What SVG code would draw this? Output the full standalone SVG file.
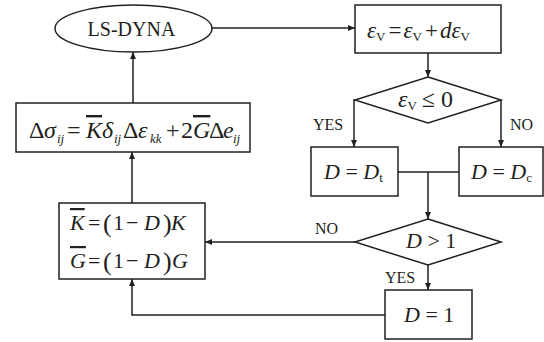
<svg xmlns="http://www.w3.org/2000/svg" width="544" height="342" viewBox="0 0 544 342">
<style>
.s{fill:none;stroke:#231f20;stroke-width:1.5}
.b{fill:#fff;stroke:#231f20;stroke-width:1.5}
text{font-family:"Liberation Serif","Times New Roman",serif;fill:#231f20}
.m{font-size:22px}
.i{font-style:italic}
.sub{font-size:13px}
.lb{font-size:16px}
.ob{text-decoration:overline}
.p{font-size:26px}
</style>
<defs>
<marker id="ah" markerWidth="8" markerHeight="8" refX="7" refY="4" orient="auto" markerUnits="userSpaceOnUse">
<path d="M0,1 L7,4 L0,7 Z" fill="#231f20"/>
</marker>
</defs>
<g id="connectors">
<line class="s" x1="212" y1="28" x2="355" y2="28" marker-end="url(#ah)"/>
<line class="s" x1="428" y1="53" x2="428" y2="77" marker-end="url(#ah)"/>
<polyline class="s" points="355,100 354,100 354,147" marker-end="url(#ah)"/>
<polyline class="s" points="501,100 501,147" marker-end="url(#ah)"/>
<line class="s" x1="398" y1="172" x2="459" y2="172"/>
<line class="s" x1="428" y1="172" x2="428" y2="219" marker-end="url(#ah)"/>
<line class="s" x1="355" y1="242" x2="205" y2="242" marker-end="url(#ah)"/>
<line class="s" x1="428" y1="265" x2="428" y2="290" marker-end="url(#ah)"/>
<polyline class="s" points="385,315 132,315 132,279" marker-end="url(#ah)"/>
<line class="s" x1="132" y1="203" x2="132" y2="152" marker-end="url(#ah)"/>
<line class="s" x1="133" y1="103" x2="133" y2="52" marker-end="url(#ah)"/>
<text class="lb" x="313" y="130">YES</text>
<text class="lb" x="510" y="130">NO</text>
<text class="lb" x="315" y="234">NO</text>
<text class="lb" x="385" y="283">YES</text>
</g>
<g id="lsdyna">
<ellipse class="b" cx="133.5" cy="28.5" rx="78.5" ry="23.5"/>
<text x="131.5" y="36" text-anchor="middle" font-size="20">LS-DYNA</text>
</g>
<g id="update">
<rect class="b" x="355" y="5" width="146" height="48"/>
<text x="367" y="38" font-size="23"><tspan class="i">ε</tspan><tspan class="sub" dy="3">V</tspan><tspan dx="3" dy="-3">=</tspan><tspan class="i" dx="2">ε</tspan><tspan class="sub" dy="3">V</tspan><tspan dx="3" dy="-3">+</tspan><tspan class="i" dx="2">dε</tspan><tspan class="sub" dy="3">V</tspan></text>
</g>
<g id="cond1">
<polygon class="b" points="428,77 501,100 428,123 355,100"/>
<text x="398" y="107" font-size="24"><tspan class="i">ε</tspan><tspan class="sub" dy="3">V</tspan><tspan dx="5" dy="-3">≤ 0</tspan></text>
</g>
<g id="dt">
<rect class="b" x="311" y="147" width="87" height="49"/>
<text class="m" x="324" y="179"><tspan class="i">D</tspan> = <tspan class="i">D</tspan><tspan class="sub" dy="3">t</tspan></text>
</g>
<g id="dc">
<rect class="b" x="459" y="147" width="84" height="49"/>
<text class="m" x="471" y="179"><tspan class="i">D</tspan> = <tspan class="i">D</tspan><tspan class="sub" dy="3">c</tspan></text>
</g>
<g id="cond2">
<polygon class="b" points="428,219 501,242 428,265 355,242"/>
<text class="m" x="406" y="248"><tspan class="i">D</tspan> &gt; 1</text>
</g>
<g id="d1">
<rect class="b" x="385" y="290" width="87" height="49"/>
<text class="m" x="404" y="322"><tspan class="i">D</tspan> = 1</text>
</g>
<g id="moduli">
<rect class="b" x="59" y="203" width="146" height="76"/>
<text class="m" y="230"><tspan class="i ob" x="70">K</tspan><tspan x="88">=</tspan><tspan class="p" x="103" dy="2">(</tspan><tspan x="113" dy="-2">1</tspan><tspan x="126">−</tspan><tspan class="i" x="144">D</tspan><tspan class="p" x="163" dy="2">)</tspan><tspan class="i" x="171" dy="-2">K</tspan></text>
<text class="m" y="268"><tspan class="i ob" x="70">G</tspan><tspan x="88">=</tspan><tspan class="p" x="103" dy="2">(</tspan><tspan x="113" dy="-2">1</tspan><tspan x="126">−</tspan><tspan class="i" x="144">D</tspan><tspan class="p" x="163" dy="2">)</tspan><tspan class="i" x="172" dy="-2">G</tspan></text>
</g>
<g id="stress">
<rect class="b" x="16" y="103" width="234" height="49"/>
<text font-size="24" y="138"><tspan x="29">Δ</tspan><tspan class="i" x="44">σ</tspan><tspan class="sub i" x="57" dy="5">ij</tspan><tspan x="67" dy="-5">=</tspan><tspan class="i ob" x="86">K</tspan><tspan class="i" x="102">δ</tspan><tspan class="sub i" x="114" dy="5">ij</tspan><tspan x="123" dy="-5">Δ</tspan><tspan class="i" x="138">ε</tspan><tspan class="sub i" x="150" dy="5">kk</tspan><tspan x="166" dy="-5">+</tspan><tspan x="181">2</tspan><tspan class="i ob" x="193">G</tspan><tspan x="209">Δ</tspan><tspan class="i" x="223">e</tspan><tspan class="sub i" x="233" dy="5">ij</tspan></text>
</g>
</svg>
